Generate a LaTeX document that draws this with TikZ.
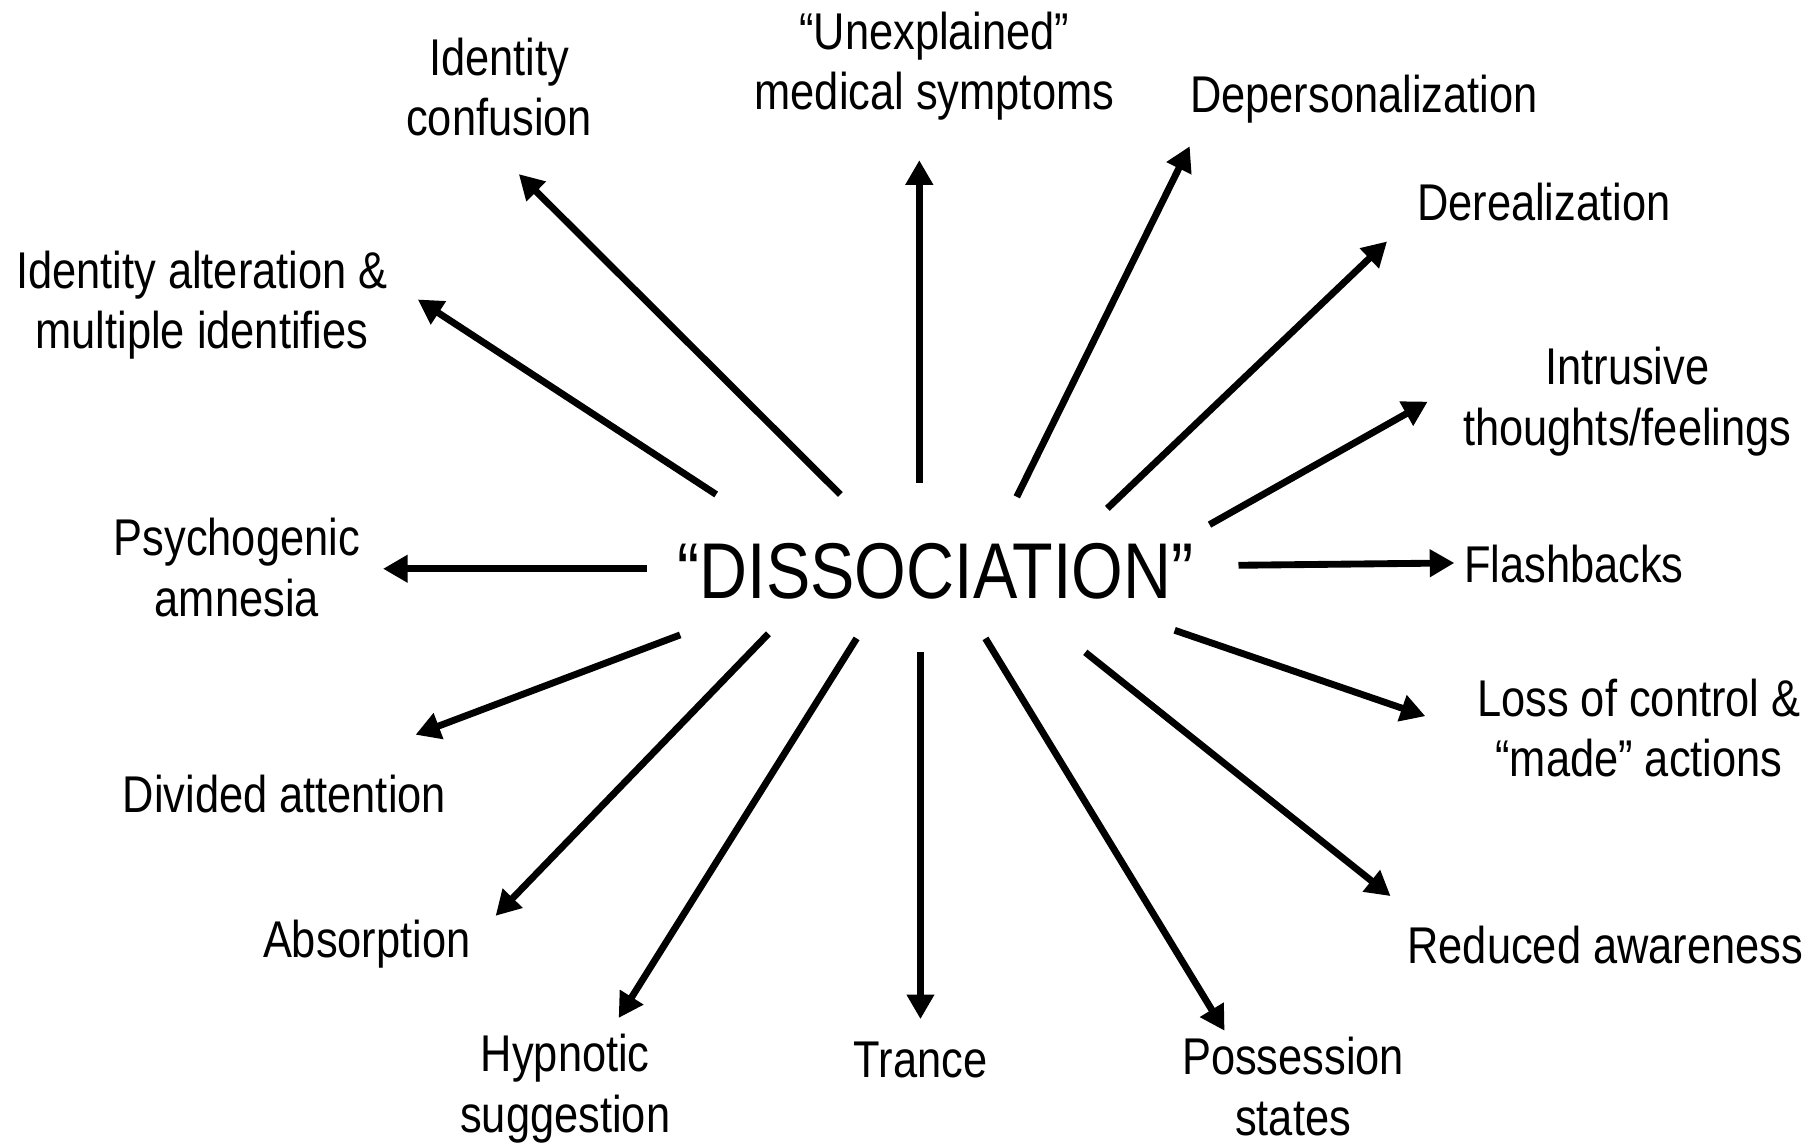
\documentclass[tikz,border=0pt]{standalone}
\usepackage{fontspec}
\setmainfont[FakeStretch=0.84]{Liberation Sans}
\usetikzlibrary{arrows.meta}

\begin{document}
\begin{tikzpicture}[x=0.023214cm,y=-0.023214cm,
  every node/.style={font=\fontsize{29.4}{34.4}\selectfont,align=center,inner sep=0pt},
  arr/.style={line width=3.9pt,-{Triangle[length=14pt,width=15pt]}}
]
  \useasboundingbox (0,0) rectangle (1568,988);

  % centre
  \node[font=\fontsize{45}{50}\selectfont] (dis) at (806,492) {“DISSOCIATION”};

  % labels round it
  \node (idconf) at (430,75) {Identity\\confusion};
  \node (unexpl) at (805,57) {“Unexplained”\\medical symptoms};
  \node (depers) at (1175,85) {Depersonalization};
  \node (dereal) at (1330,174) {Derealization};
  \node (intrus) at (1402,346) {Intrusive\\thoughts/feelings};
  \node (flash) at (1356,486) {Flashbacks};
  \node (loss) at (1412,627) {Loss of control \&\\“made” actions};
  \node (reduc) at (1383,814) {Reduced awareness};
  \node (posses) at (1114,936) {Possession\\states};
  \node (trance) at (793,913) {Trance};
  \node (hypno) at (487,938) {Hypnotic\\suggestion};
  \node (absorp) at (316,813) {Absorption};
  \node (divid) at (245,684) {Divided attention};
  \node (amnes) at (204,489) {Psychogenic\\amnesia};
  \node (idalt) at (174,263) {Identity alteration \&\\multiple identifies};

  % arrow tails and tips
  \coordinate (s1) at (724,426);  \coordinate (e1) at (447,150);
  \coordinate (s2) at (792,416);  \coordinate (e2) at (792,138);
  \coordinate (s3) at (876,428);  \coordinate (e3) at (1025,126);
  \coordinate (s4) at (954,438);  \coordinate (e4) at (1195,208);
  \coordinate (s5) at (1042,452); \coordinate (e5) at (1230,346);
  \coordinate (s6) at (1067,487); \coordinate (e6) at (1253,485);
  \coordinate (s7) at (1012,543); \coordinate (e7) at (1228,617);
  \coordinate (s8) at (935,562);  \coordinate (e8) at (1198,772);
  \coordinate (s9) at (849,550);  \coordinate (e9) at (1055,888);
  \coordinate (s10) at (793,562); \coordinate (e10) at (793,878);
  \coordinate (s11) at (738,550); \coordinate (e11) at (533,877);
  \coordinate (s12) at (662,546); \coordinate (e12) at (427,789);
  \coordinate (s13) at (586,547); \coordinate (e13) at (358,633);
  \coordinate (s14) at (557,490); \coordinate (e14) at (330,490);
  \coordinate (s15) at (617,426); \coordinate (e15) at (360,258);

  \foreach \i in {1,...,15}
    \draw[arr] (s\i) -- (e\i);
\end{tikzpicture}
\end{document}
